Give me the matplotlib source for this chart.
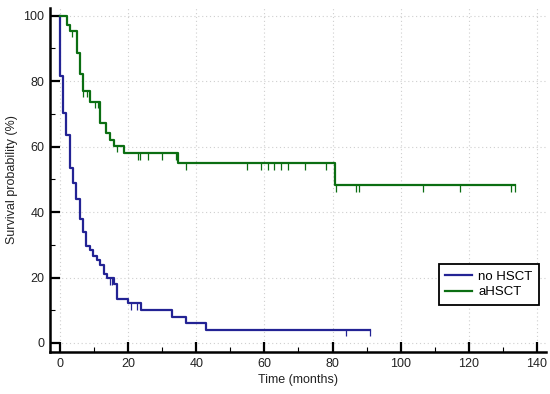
import matplotlib.pyplot as plt
import numpy as np

plt.rcParams['font.family'] = ['Liberation Sans', 'DejaVu Sans']

# Kaplan-Meier steps (time in months, survival in %)
nohsct_t = [0, 0.0, 1.0, 1.8, 3.1, 3.8, 4.7, 5.9, 6.8, 7.8, 8.8, 9.8, 10.9, 11.9,
            12.9, 13.7, 15.9, 16.8, 20.0, 23.7, 33.0, 36.9, 43.0, 91.0]
nohsct_s = [100, 81.5, 70.3, 63.5, 53.5, 49.0, 44.0, 38.0, 34.0, 29.7, 28.4, 26.6, 25.3, 23.8,
            21.0, 19.8, 18.0, 13.5, 12.2, 10.0, 8.0, 6.0, 4.0, 4.0]
nohsct_cens_t = [14.6, 15.3, 21.0, 22.6, 84.0, 91.0]
nohsct_cens_s = [19.8, 19.8, 12.2, 12.2, 4.0, 4.0]

ahsct_t = [0, 2.0, 2.9, 4.9, 5.9, 6.8, 8.8, 11.9, 13.4, 14.7, 15.9, 18.9, 34.7, 80.7, 133.6]
ahsct_s = [100, 97.0, 95.4, 88.6, 82.3, 77.0, 73.7, 67.3, 64.2, 62.0, 60.2, 57.9, 54.9, 48.2, 48.2]
ahsct_cens_t = [3.7, 6.9, 7.9, 10.3, 11.2, 16.8, 22.8, 23.5, 25.9, 30.0, 34.0, 36.9,
                54.8, 58.9, 61.0, 62.8, 64.9, 66.8, 71.9, 78.0, 80.9, 86.8, 87.8,
                106.4, 117.3, 132.5, 133.5]
ahsct_cens_s = [95.4, 77.0, 77.0, 73.7, 73.7, 60.2, 57.9, 57.9, 57.9, 57.9, 57.9, 54.9,
                54.9, 54.9, 54.9, 54.9, 54.9, 54.9, 54.9, 54.9, 48.2, 48.2, 48.2,
                48.2, 48.2, 48.2, 48.2]

blue = '#232394'
green = '#0b6e12'

fig = plt.figure(figsize=(5.5, 3.94), dpi=100)
ax = fig.add_axes([0.0909, 0.1066, 0.901, 0.873])

# grid
for gx in range(0, 141, 20):
    ax.axvline(gx, color='#cfcfcf', lw=0.8, ls=(0, (1, 2.5)), zorder=0)
for gy in range(0, 101, 20):
    ax.axhline(gy, color='#cfcfcf', lw=0.8, ls=(0, (1, 2.5)), zorder=0)

ax.step(nohsct_t, nohsct_s, where='post', color=blue, lw=1.6, label='no HSCT', zorder=3)
ax.step(ahsct_t, ahsct_s, where='post', color=green, lw=1.6, label='aHSCT', zorder=3)

# censor marks hanging below the curve
ax.vlines(nohsct_cens_t, np.array(nohsct_cens_s) - 2.0, nohsct_cens_s, color=blue, lw=0.9, zorder=3)
ax.vlines(ahsct_cens_t, np.array(ahsct_cens_s) - 2.0, ahsct_cens_s, color=green, lw=0.9, zorder=3)

ax.set_xlim(-2.9, 142.5)
ax.set_ylim(-2.75, 102.3)
ax.set_xticks(range(0, 141, 20))
ax.set_xticks(range(10, 141, 20), minor=True)
ax.set_yticks(range(0, 101, 20))
ax.set_yticks(range(10, 101, 20), minor=True)

for s in ['top', 'right']:
    ax.spines[s].set_visible(False)
for s in ['left', 'bottom']:
    ax.spines[s].set_linewidth(1.8)
ax.tick_params(which='major', direction='in', length=7.2, width=1.6, labelsize=9, pad=4,
               labelcolor='#222222')
ax.tick_params(which='minor', direction='in', length=3.5, width=0.8)

ax.set_xlabel('Time (months)', fontsize=9, labelpad=3, color='#222222')
ax.set_ylabel('Survival probability (%)', fontsize=9, labelpad=4, color='#222222')

leg = ax.legend(loc='lower right', bbox_to_anchor=(0.987, 0.137), borderaxespad=0,
                fontsize=9.5, fancybox=False, edgecolor='black', framealpha=1,
                handlelength=2.0, borderpad=0.5, labelspacing=0.25, handletextpad=0.5)
leg.get_frame().set_linewidth(1.3)

fig.savefig('out.png', dpi=100)
